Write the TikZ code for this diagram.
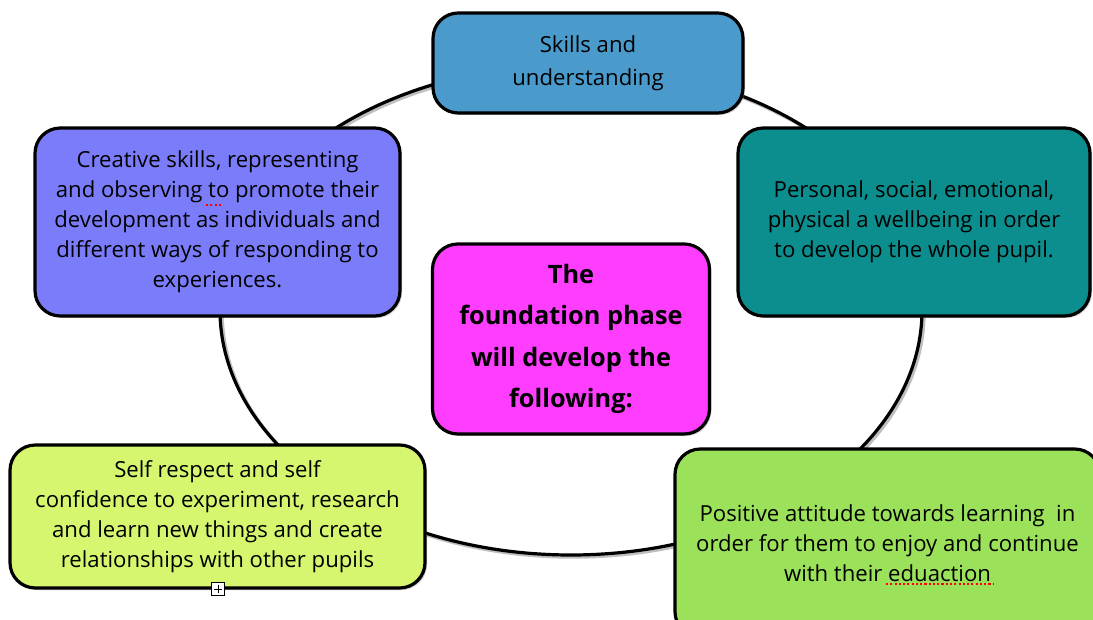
\documentclass[tikz,border=0pt]{standalone}
\usepackage{fontspec}
\setmainfont{Open Sans}
\usetikzlibrary{shadows}
\definecolor{cTop}{RGB}{74,154,203}
\definecolor{cPurple}{RGB}{123,124,250}
\definecolor{cTeal}{RGB}{13,142,142}
\definecolor{cMagenta}{RGB}{255,61,255}
\definecolor{cYellow}{RGB}{214,246,112}
\definecolor{cGreen}{RGB}{155,226,90}
\tikzset{
  boxstyle/.style={draw=black, line width=2.4pt, rounded corners=19pt, align=center,
    inner sep=0pt, font=\fontsize{16.6}{22.5}\selectfont,
    drop shadow={opacity=0.35, shadow xshift=1.5pt, shadow yshift=-1.5pt}},
  ringstyle/.style={draw=black, line width=2.4pt},
  ringshadow/.style={draw=black, opacity=0.25, line width=2.6pt},
  squiggle/.style={draw=red, line width=1.4pt, dash pattern=on 1.6pt off 1.6pt}
}
\begin{document}
\begin{tikzpicture}[x=0.75pt,y=-0.75pt]
\useasboundingbox (0,0) rectangle (1093,620);
\fill[white] (0,0) rectangle (1093,620);
\coordinate (ringc) at (571,310);
\coordinate (rings) at (573,312);
\draw[ringshadow] (rings) ellipse [x radius=351, y radius=245];
\draw[ringstyle] (ringc) ellipse [x radius=351, y radius=245];
\node[boxstyle, fill=cTop, minimum width=232.5pt, minimum height=75pt,
  font=\fontsize{16.6}{24.75}\selectfont] (skills) at (588,63)
  {Skills and\\understanding};
\node[boxstyle, fill=cPurple, minimum width=273.75pt, minimum height=141pt] (creative) at (217.5,222)
  {Creative skills, representing\\and observing to promote their\\development as individuals and\\different ways of responding to\\experiences.};
\node[boxstyle, fill=cTeal, minimum width=264pt, minimum height=141pt] (personal) at (914,222)
  {Personal, social, emotional,\\physical a wellbeing in order\\to develop the whole pupil.};
\node[boxstyle, fill=cMagenta, minimum width=207.75pt, minimum height=142.5pt,
  font=\fontsize{19}{31}\selectfont\bfseries] (centre) at (571,339)
  {The\\foundation phase\\will develop the\\following:};
\node[boxstyle, fill=cYellow, minimum width=311.25pt, minimum height=107.25pt] (self) at (217.5,516.5)
  {Self respect and self\\confidence to experiment, research\\and learn new things and create\\relationships with other pupils};
\node[boxstyle, fill=cGreen, minimum width=318.75pt, minimum height=141pt] (positive) at (887.5,543)
  {Positive attitude towards learning\ \ in\\order for them to enjoy and continue\\with their eduaction};
\draw[squiggle] (206,205) -- (222,205);
\draw[squiggle] (886,584) -- (993,584);
\node[draw=black, fill=white, line width=0.6pt, minimum size=10pt, inner sep=0pt] (plusbox) at (218,589) {};
\draw[line width=0.6pt] ([yshift=-2pt]plusbox.north) -- ([yshift=2pt]plusbox.south)
  ([xshift=2pt]plusbox.west) -- ([xshift=-2pt]plusbox.east);
\end{tikzpicture}
\end{document}
